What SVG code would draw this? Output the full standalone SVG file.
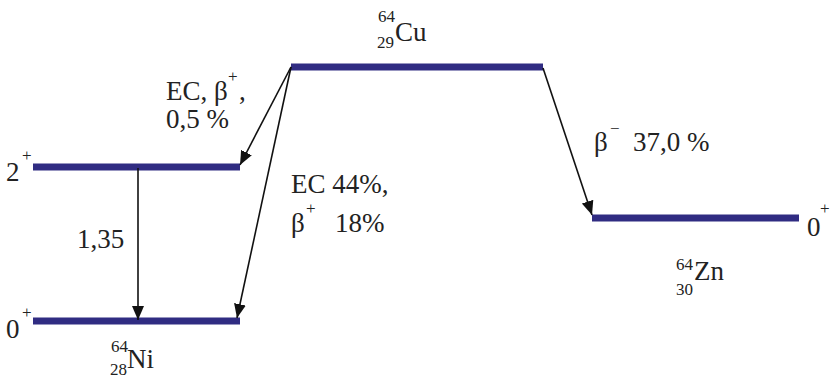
<svg xmlns="http://www.w3.org/2000/svg" width="831" height="378" viewBox="0 0 831 378" font-family="Liberation Serif, DejaVu Serif, serif">
<style>
.lvl{stroke:#302c82;stroke-width:7;fill:none}
text{font-family:"Liberation Serif",serif;fill:#222}
.t{font-size:27px}
.s{font-size:17px}
.c{stroke:#111;stroke-width:1.6;fill:none;marker-end:url(#ah)}
</style>
<defs>
<marker id="ah" markerUnits="userSpaceOnUse" markerWidth="16" markerHeight="14" refX="14" refY="6" orient="auto" viewBox="0 0 16 12">
<path d="M0,0 L14,6 L0,12 Z" fill="#111"/>
</marker>
</defs>
<rect width="831" height="378" fill="#fff"/>
<g id="cu64">
<line class="lvl" x1="291" y1="67" x2="543" y2="67"/>
<text class="s" x="378" y="22">64</text>
<text class="s" x="377" y="48">29</text>
<text class="t" x="395" y="41">Cu</text>
</g>
<g id="ni64-2plus">
<line class="lvl" x1="33" y1="167" x2="240" y2="167"/>
<text class="t" x="6" y="181">2</text>
<text class="s" x="22" y="161">+</text>
</g>
<g id="ni64-0plus">
<line class="lvl" x1="33" y1="321" x2="240" y2="321"/>
<text class="t" x="6" y="338">0</text>
<text class="s" x="22" y="318">+</text>
<text class="s" x="111" y="352">64</text>
<text class="s" x="110" y="375">28</text>
<text class="t" x="127" y="368">Ni</text>
</g>
<g id="zn64">
<line class="lvl" x1="592" y1="218" x2="799" y2="218"/>
<text class="t" x="807" y="236">0</text>
<text class="s" x="820" y="214">+</text>
<text class="s" x="676" y="270">64</text>
<text class="s" x="676" y="295">30</text>
<text class="t" x="694" y="280">Zn</text>
</g>
<g id="connectors">
<line class="c" x1="291" y1="67" x2="240" y2="165"/>
<line class="c" x1="291" y1="67" x2="237" y2="318"/>
<line class="c" x1="138" y1="168" x2="138" y2="320"/>
<line class="c" x1="543" y1="68" x2="592" y2="215"/>
</g>
<g id="labels">
<text class="t" x="166" y="100">EC, β</text>
<text class="s" x="228" y="82">+</text>
<text class="t" x="239" y="100">,</text>
<text class="t" x="166" y="128">0,5 %</text>
<text class="t" x="291" y="193">EC 44%,</text>
<text class="t" x="291" y="232">β</text>
<text class="s" x="306" y="214">+</text>
<text class="t" x="335" y="232">18%</text>
<text class="t" x="77" y="248">1,35</text>
<text class="t" x="594" y="151">β</text>
<text class="s" x="610" y="134">−</text>
<text class="t" x="633" y="151">37,0 %</text>
</g>
</svg>
